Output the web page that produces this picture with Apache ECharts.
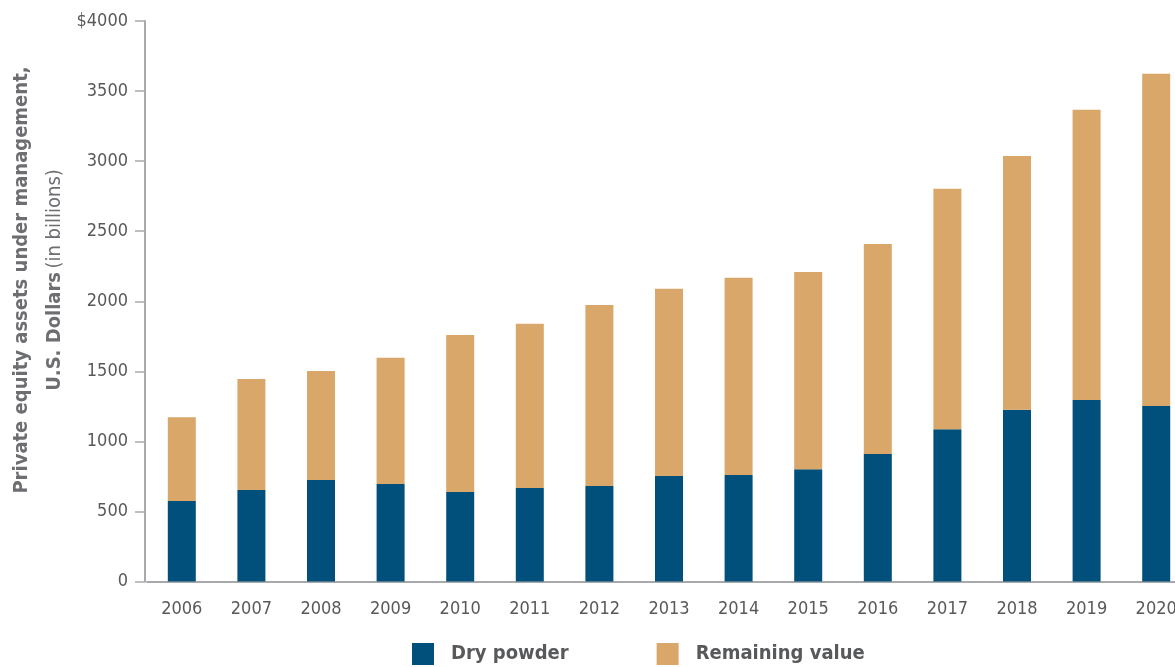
<!DOCTYPE html>
<html>
<head>
<meta charset="utf-8">
<style>
html,body{margin:0;padding:0;background:#fff;}
#c{width:1175px;height:667px;}
</style>
<script src="https://cdn.jsdelivr.net/npm/echarts@6/dist/echarts.min.js"></script>
</head>
<body>
<div id="c"></div>
<script>
const years = ['2006','2007','2008','2009','2010','2011','2012','2013','2014','2015','2016','2017','2018','2019','2020'];
const dryPowder = [575, 653, 725, 696, 639, 668, 682, 753, 760, 801, 910, 1087, 1225, 1295, 1253];
const remainingValue = [597, 793, 778, 900, 1121, 1171, 1292, 1336, 1407, 1407, 1498, 1716, 1812, 2072, 2371];
const seriesNames = ['Dry powder', 'Remaining value'];

const FONT = '"Liberation Sans Narrow", "DejaVu Sans Condensed", "Roboto", sans-serif';
const chart = echarts.init(document.getElementById('c'));
chart.setOption({
  animation: false,
  grid: { left: 147, top: 21, width: 1044, height: 560.5, outerBoundsMode: 'none', containLabel: false },
  legend: {
    left: 412, top: 643,
    padding: 0,
    itemWidth: 22, itemHeight: 22, itemGap: 88,
    icon: 'rect',
    textStyle: { fontFamily: FONT, fontSize: 20, fontWeight: 'bold', color: '#58595b', padding: [0, 0, 0, 12] },
    data: seriesNames
  },
  xAxis: {
    type: 'category',
    data: years,
    axisLine: { show: true, lineStyle: { color: '#a7a9ad', width: 2 } },
    axisTick: { show: false },
    axisLabel: { fontFamily: FONT, fontSize: 18, color: '#58595b', margin: 19 }
  },
  yAxis: {
    type: 'value',
    min: 0, max: 4000, interval: 500,
    offset: 2,
    axisLine: { show: true, lineStyle: { color: '#a7a9ad', width: 2 } },
    axisTick: { show: true, length: 10, lineStyle: { color: '#a7a9ad', width: 1.5 } },
    splitLine: { show: false },
    axisLabel: {
      fontFamily: FONT, fontSize: 18, color: '#58595b', margin: 17,
      formatter: v => v === 4000 ? '$' + v : String(v)
    }
  },
  graphic: [{
    type: 'text',
    x: 38, y: 280,
    rotation: Math.PI / 2,
    style: {
      text: '{b|Private equity assets under management,}\n{b|U.S. Dollars} {r|(in billions)}',
      align: 'center',
      verticalAlign: 'middle',
      fill: '#6d6e71',
      lineHeight: 33,
      rich: {
        b: { fontFamily: FONT, fontSize: 20, fontWeight: 'bold', fill: '#6d6e71', lineHeight: 33 },
        r: { fontFamily: FONT, fontSize: 20, fontWeight: 'normal', fill: '#6d6e71', lineHeight: 33 }
      }
    }
  }],
  series: [
    { name: seriesNames[0], type: 'bar', stack: 'aum', data: dryPowder, barWidth: 28, itemStyle: { color: '#01507b' } },
    { name: seriesNames[1], type: 'bar', stack: 'aum', data: remainingValue, barWidth: 28, itemStyle: { color: '#d9a769' } }
  ]
});
</script>
</body>
</html>
